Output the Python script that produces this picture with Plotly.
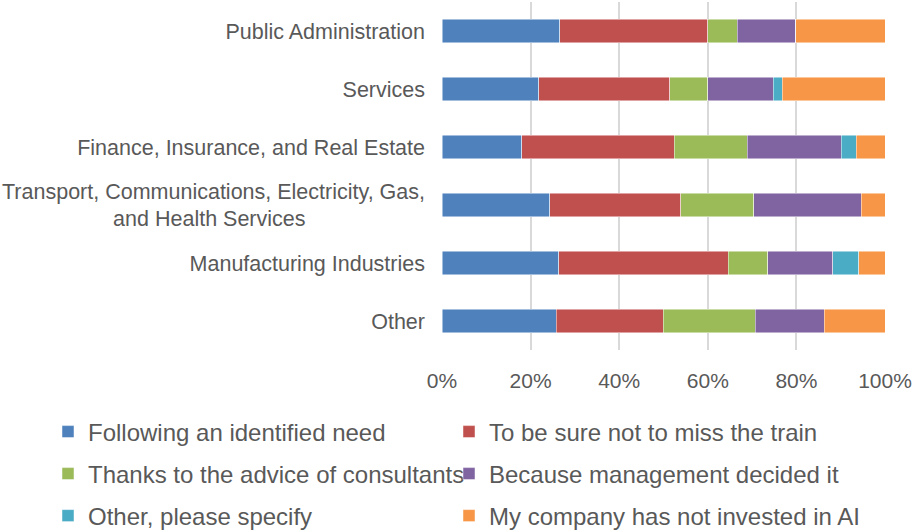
import plotly.graph_objects as go

# Sectors (top to bottom)
sectors = [
    "Public Administration",
    "Services",
    "Finance, Insurance, and Real Estate",
    "Transport, Communications, Electricity, Gas,<br>and Health Services" + "\u00a0" * 20,
    "Manufacturing Industries",
    "Other",
]

# Share of respondents per reason (%)
identified_need = [26.6, 21.8, 18.0, 24.3, 26.4, 25.8]
not_miss_train = [33.4, 29.6, 34.4, 29.6, 38.2, 24.1]
consultants = [6.7, 8.6, 16.5, 16.5, 8.9, 20.8]
management = [13.2, 14.8, 21.2, 24.2, 14.7, 15.6]
other_reason = [0.0, 2.0, 3.4, 0.0, 5.9, 0.0]
not_invested = [20.1, 23.2, 6.5, 5.4, 5.9, 13.7]

series_names = [
    "Following an identified need",
    "To be sure not to miss the train",
    "Thanks to the advice of consultants",
    "Because management decided it",
    "Other, please specify",
    "My company has not invested in AI",
]
series_values = [identified_need, not_miss_train, consultants,
                 management, other_reason, not_invested]
series_colors = ["#4F81BD", "#C0504D", "#9BBB59", "#8064A2", "#4BACC6", "#F79646"]

x_ticks = [0, 20, 40, 60, 80, 100]
x_tick_labels = ["0%", "20%", "40%", "60%", "80%", "100%"]

FONT = "Liberation Sans, Arial, sans-serif"
TEXT = "#595959"

W, H = 915, 532
# legend grid: two columns, three rows (container pixels)
legend_cols = [48, 449]
legend_rows = [432, 474, 516]

fig = go.Figure()
legends = {}
for i, (name, vals, color) in enumerate(zip(series_names, series_values, series_colors)):
    key = "legend" if i == 0 else f"legend{i + 1}"
    fig.add_trace(go.Bar(
        y=sectors, x=vals, name=name, orientation="h",
        marker=dict(color=color, line=dict(color="rgba(255,255,255,0.6)", width=0.8)),
        width=0.4, legend=key, showlegend=True,
    ))
    col, row = i % 2, i // 2
    legends[key] = dict(
        orientation="h", xref="container", yref="container",
        x=legend_cols[col] / W, y=1 - legend_rows[row] / H,
        xanchor="left", yanchor="middle",
        font=dict(family=FONT, size=24, color=TEXT),
        bgcolor="rgba(0,0,0,0)",
        itemclick=False, itemdoubleclick=False,
    )

fig.update_layout(
    barmode="stack",
    showlegend=True,
    width=W, height=H,
    margin=dict(l=442, r=30, t=2, b=182),
    plot_bgcolor="white", paper_bgcolor="white",
    font=dict(family=FONT, color=TEXT),
    xaxis=dict(
        range=[0, 100], tickvals=x_ticks, ticktext=x_tick_labels,
        showgrid=True, gridcolor="#D9D9D9", gridwidth=2,
        zeroline=False, showline=False,
        tickfont=dict(family=FONT, size=21, color=TEXT),
        ticklabelstandoff=16,
    ),
    yaxis=dict(
        categoryorder="array", categoryarray=sectors, autorange="reversed",
        showgrid=False, zeroline=False, showline=False,
        tickfont=dict(family=FONT, size=21.5, color=TEXT),
        ticklabelstandoff=16,
    ),
    **legends,
)

fig.write_html("out.html")
